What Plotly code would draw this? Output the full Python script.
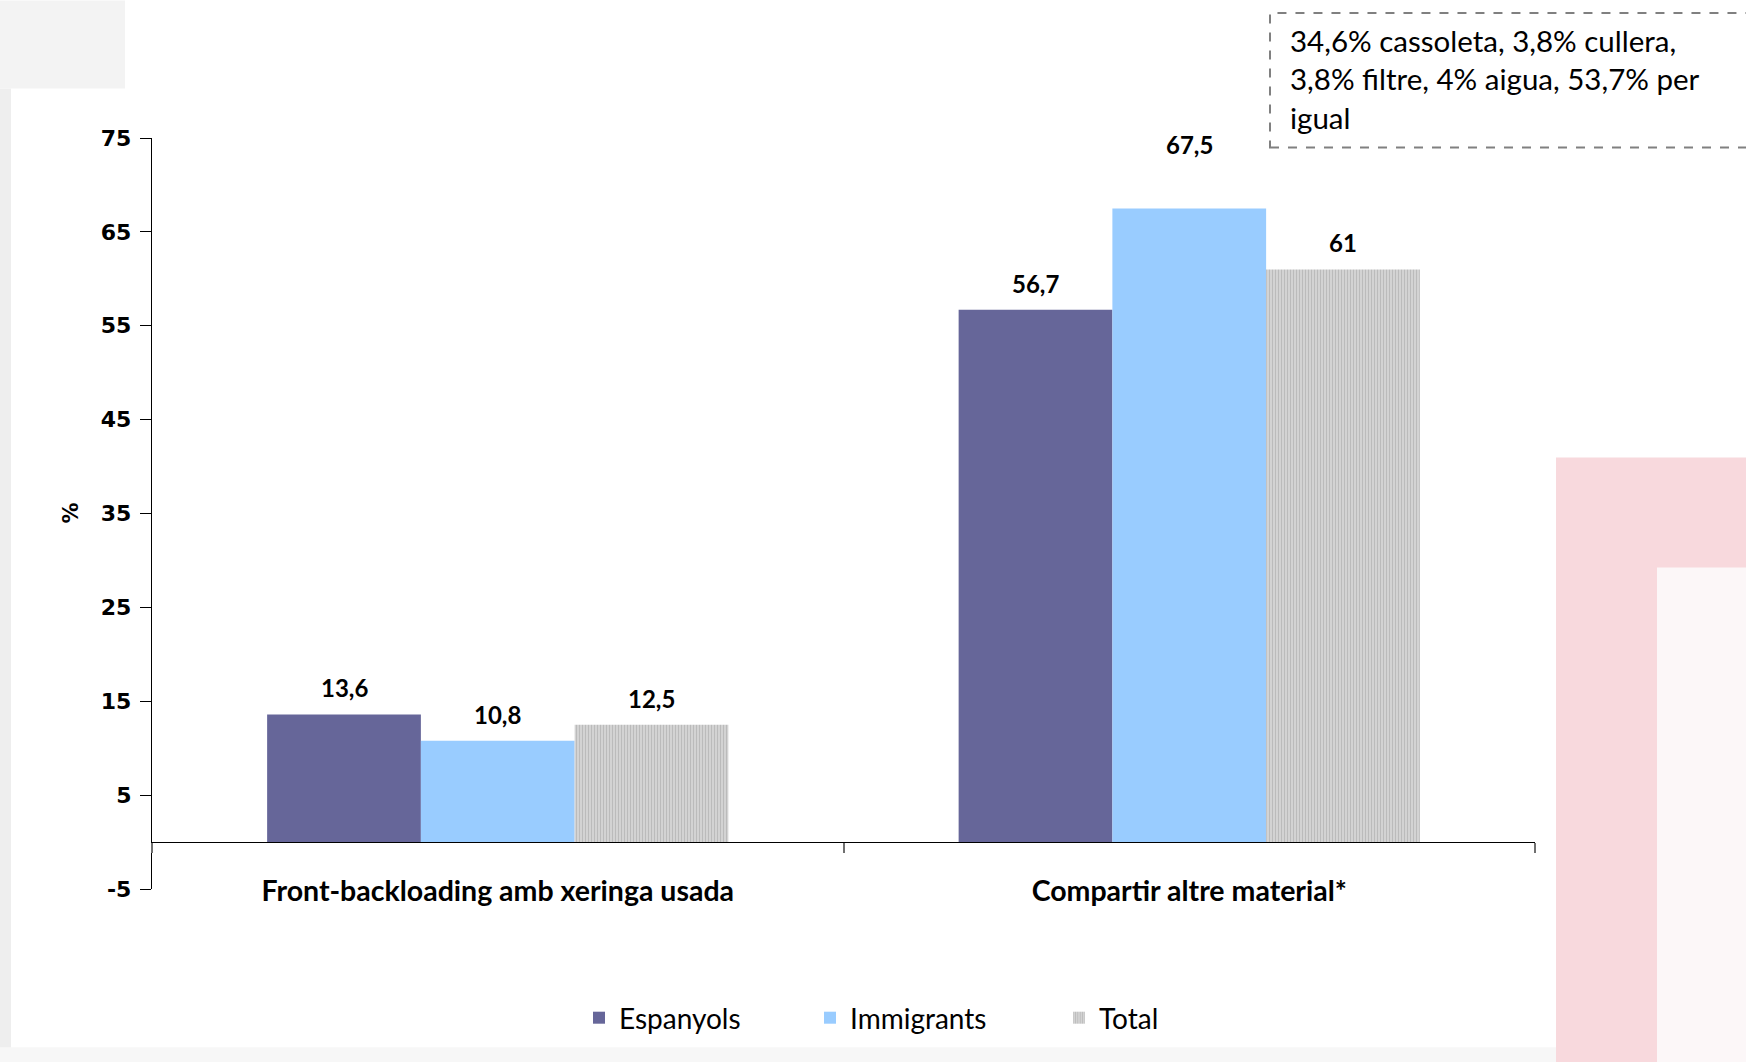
import plotly.graph_objects as go

categories = ["Front-backloading amb xeringa usada", "Compartir altre material*"]
series_names = ["Espanyols", "Immigrants", "Total"]
espanyols = [13.6, 56.7]
immigrants = [10.8, 67.5]
total = [12.5, 61.0]
y_ticks = [-5, 5, 15, 25, 35, 45, 55, 65, 75]
note_text = "34,6% cassoleta, 3,8% cullera,<br>3,8% filtre, 4% aigua, 53,7% per<br>igual"

W, H = 1746, 1062
L, R, T, B = 152, 1535, 137.5, 888.7
BARGAP = 0.333
# extra vertical offset (px) of individual data labels, keyed (series, category)
LABEL_EXTRA_SHIFT = {(1, 1): 37}
LEGEND_TEXT_X = [619, 850, 1099]

def px(x):
    return (x - L) / (R - L)

def py(y):
    return (B - y) / (B - T)

def fmt(v):
    s = ("%.1f" % v).rstrip("0").rstrip(".")
    return s.replace(".", ",")

legend_names = ["legend", "legend2", "legend3"]
fig = go.Figure()
fig.add_trace(go.Bar(name=series_names[0], x=categories, y=espanyols, legend=legend_names[0],
                     marker=dict(color="#666699", line=dict(width=0))))
fig.add_trace(go.Bar(name=series_names[1], x=categories, y=immigrants, legend=legend_names[1],
                     marker=dict(color="#99CCFF", line=dict(width=0))))
fig.add_trace(go.Bar(name=series_names[2], x=categories, y=total, legend=legend_names[2],
                     marker=dict(color="#d8d8d8", line=dict(width=0),
                                 pattern=dict(shape="|", fgcolor="#9a9a9a",
                                              bgcolor="#dcdcdc", size=3, solidity=0.5))))

annotations = []
bw = (1 - BARGAP) / 3
for j, vals in enumerate([espanyols, immigrants, total]):
    for i, v in enumerate(vals):
        annotations.append(dict(x=i + (j - 1) * bw, y=v, xref="x", yref="y",
                                text="<b>%s</b>" % fmt(v), showarrow=False,
                                yanchor="bottom", yshift=10 + LABEL_EXTRA_SHIFT.get((j, i), 0),
                                font=dict(family="Lato", size=24, color="black")))

annotations.append(dict(x=px(70), y=0.5, xref="paper", yref="paper", text="<b>%</b>",
                        textangle=-90, showarrow=False, xanchor="center", yanchor="middle",
                        font=dict(family="DejaVu Sans", size=21, color="black")))
annotations.append(dict(x=px(1288), y=py(78), xref="paper", yref="paper", text=note_text,
                        showarrow=False, xanchor="left", yanchor="middle", align="left",
                        font=dict(family="Lato", size=29.5, color="black")))

shapes = [
    dict(type="rect", xref="paper", yref="paper", x0=px(0), x1=px(11), y0=py(1062), y1=py(88),
         fillcolor="#eeeeee", line=dict(width=0), layer="below"),
    dict(type="rect", xref="paper", yref="paper", x0=px(0), x1=px(125), y0=py(88), y1=py(0),
         fillcolor="#f3f3f3", line=dict(width=0), layer="below"),
    dict(type="rect", xref="paper", yref="paper", x0=px(1556), x1=px(1746), y0=py(1062), y1=py(457),
         fillcolor="#f8d9dd", line=dict(width=0), layer="below"),
    dict(type="rect", xref="paper", yref="paper", x0=px(1657), x1=px(1746), y0=py(1062), y1=py(567),
         fillcolor="#fcf7f8", line=dict(width=0), layer="below"),
    dict(type="rect", xref="paper", yref="paper", x0=px(0), x1=px(1556), y0=py(1062), y1=py(1047),
         fillcolor="#f7f7f7", line=dict(width=0), layer="below"),
    dict(type="rect", xref="paper", yref="paper", x0=px(1270), x1=px(1760), y0=py(147), y1=py(12.5),
         fillcolor="rgba(0,0,0,0)", line=dict(color="#808080", width=2, dash="dash")),
]

legend_common = dict(orientation="h", xref="container", yref="container", xanchor="left",
                     y=1 - 1018 / H, yanchor="middle",
                     font=dict(family="Lato", size=28, color="black"), bgcolor="rgba(0,0,0,0)")

fig.update_layout(
    width=W, height=H,
    margin=dict(l=L, r=W - R, t=T, b=H - B, autoexpand=False),
    paper_bgcolor="white", plot_bgcolor="rgba(0,0,0,0)",
    barmode="group", bargap=BARGAP, bargroupgap=0,
    font=dict(family="Lato", color="black"),
    showlegend=True,
    legend=dict(x=(LEGEND_TEXT_X[0] - 40) / W, **legend_common),
    legend2=dict(x=(LEGEND_TEXT_X[1] - 40) / W, **legend_common),
    legend3=dict(x=(LEGEND_TEXT_X[2] - 40) / W, **legend_common),
    xaxis=dict(type="category", anchor="free", position=5 / 80, showline=True,
               linecolor="black", linewidth=1.3, ticks="outside", tickson="boundaries",
               ticklen=10, tickcolor="#707070", tickwidth=1.5, showgrid=False,
               tickfont=dict(family="Lato", size=28.5, color="black"),
               ticklabelstandoff=24, automargin=False),
    yaxis=dict(range=[-5, 75], tickvals=y_ticks, ticktext=["<b>%d</b>" % t for t in y_ticks],
               showline=True, linecolor="black", linewidth=1.3, ticks="outside", ticklen=11,
               tickcolor="black", showgrid=False, zeroline=False, automargin=False,
               tickfont=dict(family="DejaVu Sans", size=22, color="black"),
               ticklabelstandoff=4),
    annotations=annotations,
    shapes=shapes,
)
fig.update_xaxes(tickvals=categories, ticktext=["<b>%s</b>" % c for c in categories])

fig.write_html("out.html", config={"displayModeBar": False},
               post_script="document.body.style.margin='0';")
